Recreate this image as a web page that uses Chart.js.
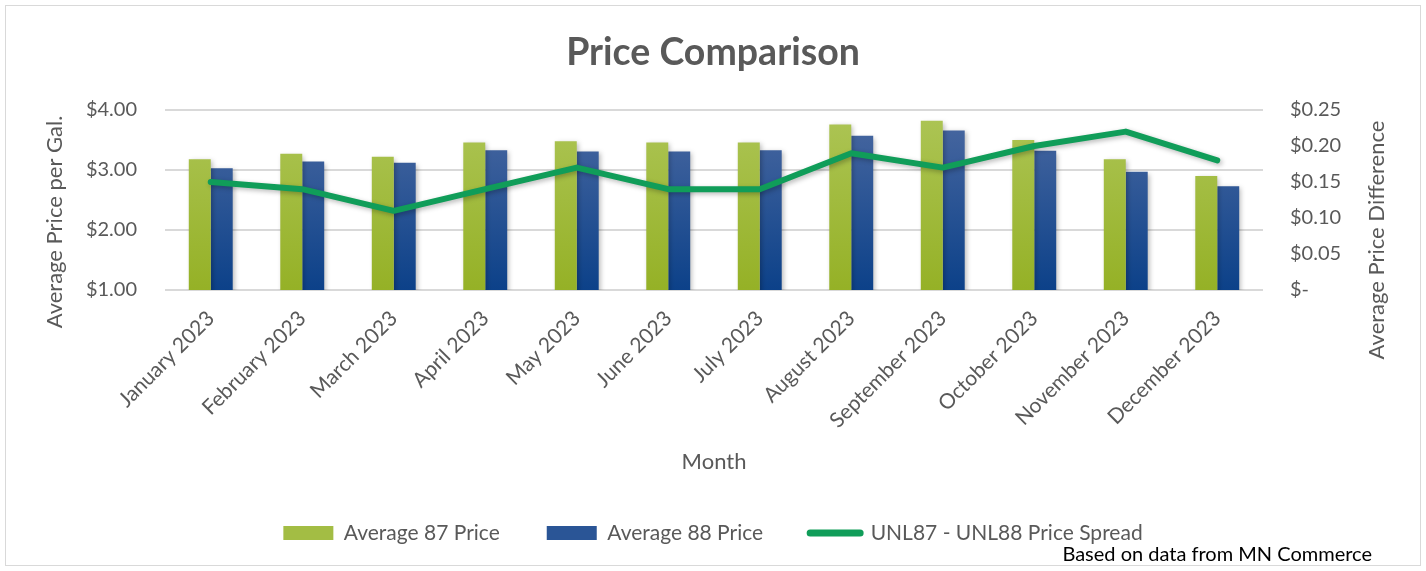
<!DOCTYPE html>
<html>
<head>
<meta charset="utf-8">
<script src="https://cdn.jsdelivr.net/npm/chart.js@4"></script>
<style>
  html, body { margin: 0; padding: 0; background: #fff; }
  #frame { position: absolute; left: 5px; top: 5px; width: 1414px; height: 559px; border: 1px solid #d9d9d9; }
  #wrap { position: absolute; left: 0; top: 0; width: 1426px; height: 571px; }
</style>
</head>
<body>
<div id="frame"></div>
<div id="wrap"><canvas id="chart"></canvas></div>
<script>
// data
var months = ["January 2023", "February 2023", "March 2023", "April 2023", "May 2023", "June 2023",
  "July 2023", "August 2023", "September 2023", "October 2023", "November 2023", "December 2023"];
var avg87 = [3.18, 3.27, 3.22, 3.46, 3.48, 3.46, 3.46, 3.76, 3.82, 3.50, 3.18, 2.90];
var avg88 = [3.03, 3.14, 3.12, 3.33, 3.31, 3.31, 3.33, 3.57, 3.66, 3.32, 2.97, 2.73];
var spread = [0.15, 0.14, 0.11, 0.14, 0.17, 0.14, 0.14, 0.19, 0.17, 0.20, 0.22, 0.18];

var FONT = "Lato, 'Open Sans', sans-serif";
var GREY = "#595959";

// vertical gradients like the excel bars
function grad(top, bottom, solid) {
  return function (c) {
    var area = c.chart.chartArea;
    if (!area) return solid;
    var g = c.chart.ctx.createLinearGradient(0, area.top, 0, area.bottom);
    g.addColorStop(0, top);
    g.addColorStop(1, bottom);
    return g;
  };
}

// soft shadow under bars and line
var shadow = {
  id: "shadow",
  beforeDatasetsDraw: function (chart) {
    var ctx = chart.ctx;
    ctx.save();
    ctx.shadowColor = "rgba(0,0,0,0.28)";
    ctx.shadowBlur = 5;
    ctx.shadowOffsetX = 2;
    ctx.shadowOffsetY = 2;
  },
  afterDatasetsDraw: function (chart) {
    chart.ctx.restore();
  }
};

// axis titles reading bottom-to-top on both sides, plus source note
var extras = {
  id: "extras",
  afterDraw: function (chart) {
    var ctx = chart.ctx;
    ctx.save();
    ctx.fillStyle = GREY;
    ctx.font = "22px " + FONT;
    ctx.textAlign = "center";
    ctx.textBaseline = "middle";
    ctx.translate(55, 222);
    ctx.rotate(-Math.PI / 2);
    ctx.fillText("Average Price per Gal.", 0, 0);
    ctx.restore();

    ctx.save();
    ctx.fillStyle = GREY;
    ctx.font = "22px " + FONT;
    ctx.textAlign = "center";
    ctx.textBaseline = "middle";
    ctx.translate(1377, 240);
    ctx.rotate(-Math.PI / 2);
    ctx.fillText("Average Price Difference", 0, 0);
    ctx.restore();

    ctx.save();
    ctx.fillStyle = "#000";
    ctx.font = "20px " + FONT;
    ctx.textAlign = "right";
    ctx.textBaseline = "middle";
    ctx.fillText("Based on data from MN Commerce", 1372, 555);
    ctx.restore();
  }
};

new Chart(document.getElementById("chart"), {
  type: "bar",
  data: {
    labels: months,
    datasets: [{
      label: "Average 87 Price",
      data: avg87,
      backgroundColor: grad("#adc556", "#95b126", "#a3bd44"),
      yAxisID: "y",
      order: 1
    }, {
      label: "Average 88 Price",
      data: avg88,
      backgroundColor: grad("#4b69a1", "#0c4189", "#2a5596"),
      yAxisID: "y",
      order: 1
    }, {
      type: "line",
      label: "UNL87 - UNL88 Price Spread",
      data: spread,
      borderColor: "#109d59",
      backgroundColor: "#109d59",
      borderWidth: 6,
      borderCapStyle: "round",
      borderJoinStyle: "round",
      pointRadius: 0,
      tension: 0,
      yAxisID: "y1",
      order: 0
    }]
  },
  options: {
    responsive: true,
    maintainAspectRatio: false,
    animation: false,
    datasets: {
      bar: { categoryPercentage: 0.48, barPercentage: 1.0 }
    },
    layout: { padding: { left: 0, right: 0, top: 0, bottom: 17.5 } },
    scales: {
      x: {
        grid: { display: false },
        border: { display: false },
        ticks: {
          color: GREY,
          font: { family: FONT, size: 21 },
          minRotation: 45,
          maxRotation: 45,
          padding: 8
        },
        title: {
          display: true,
          text: "Month",
          color: GREY,
          font: { family: FONT, size: 22 },
          padding: { top: 0, bottom: 0 }
        },
        afterFit: function (s) { s.height = 185.5; }
      },
      y: {
        position: "left",
        min: 1,
        max: 4,
        grid: { color: "#d9d9d9", lineWidth: 2, drawTicks: false },
        border: { display: false },
        ticks: {
          stepSize: 1,
          color: GREY,
          font: { family: FONT, size: 20 },
          padding: 28,
          callback: function (v) { return "$" + v.toFixed(2); }
        },
        afterFit: function (s) { s.width = 165; }
      },
      y1: {
        position: "right",
        min: 0,
        max: 0.25,
        grid: { display: false, drawTicks: false },
        border: { display: false },
        ticks: {
          stepSize: 0.05,
          color: GREY,
          font: { family: FONT, size: 20 },
          padding: 27,
          callback: function (v) { return v === 0 ? "$-" : "$" + v.toFixed(2); }
        },
        afterFit: function (s) { s.width = 163; }
      }
    },
    plugins: {
      title: {
        display: true,
        text: "Price Comparison",
        color: GREY,
        font: { family: FONT, size: 37.5, weight: "bold" },
        padding: { top: 30.5, bottom: 34.5 }
      },
      legend: {
        position: "bottom",
        labels: {
          color: GREY,
          font: { family: FONT, size: 21 },
          usePointStyle: true,
          pointStyleWidth: 50,
          boxHeight: 14,
          padding: 47,
          generateLabels: function (chart) {
            var fills = ["#a3bd44", "#2a5596", "#109d59"];
            return chart.data.datasets.map(function (ds, i) {
              var isLine = ds.type === "line";
              return {
                text: ds.label,
                fillStyle: fills[i],
                strokeStyle: fills[i],
                lineWidth: isLine ? 7 : 0,
                lineCap: "round",
                pointStyle: isLine ? "line" : "rect",
                fontColor: GREY,
                hidden: false,
                datasetIndex: i
              };
            });
          }
        }
      },
      tooltip: { enabled: false }
    }
  },
  plugins: [shadow, extras]
});
</script>
</body>
</html>
